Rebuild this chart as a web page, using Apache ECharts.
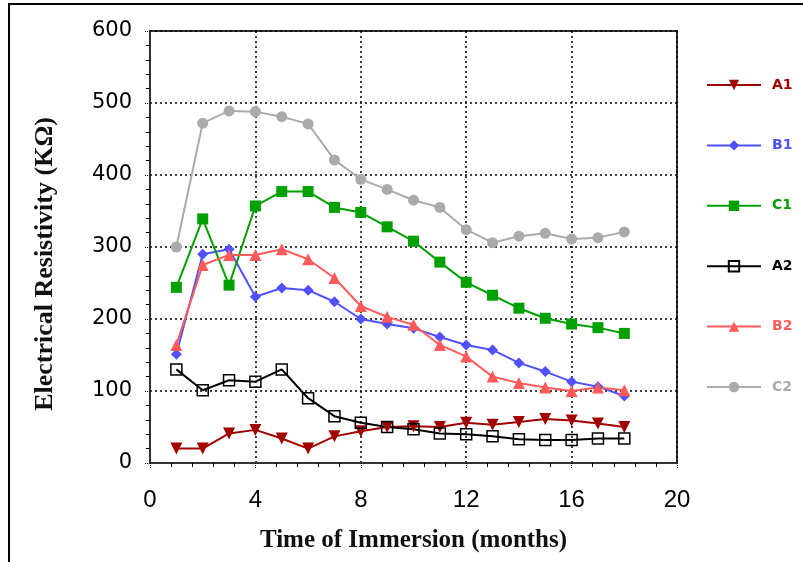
<!DOCTYPE html>
<html>
<head>
<meta charset="utf-8">
<script src="https://cdn.jsdelivr.net/npm/echarts@6/dist/echarts.min.js"></script>
<style>html,body{margin:0;padding:0;background:#fff}#c{width:803px;height:562px}</style>
</head>
<body>
<div id="c"></div>
<script>
const months = [1,2,3,4,5,6,7,8,9,10,11,12,13,14,15,16,17,18];
const A1 = [20,20,41,46,34,20,37,44,50,51,50,56,53,57,61,59,55,50];
const B1 = [151,290,297,231,243,240,224,200,193,187,175,164,157,139,127,113,106,93];
const C1 = [244,339,247,357,377,377,355,348,328,308,279,251,233,215,201,193,188,180];
const A2 = [130,101,115,113,130,90,65,56,50,47,41,40,37,33,32,32,34,34];
const B2 = [164,275,289,289,297,283,257,218,203,192,164,148,120,111,105,100,105,101];
const C2 = [300,472,489,488,481,471,421,394,380,365,355,324,306,315,319,311,313,321];
const xTicks = [0,4,8,12,16,20];
const yTicks = [0,100,200,300,400,500,600];

const seriesDefs = [
  {name:'A1', data:A1, color:'#a00000', symbol:'triangle', rotate:180, size:12},
  {name:'B1', data:B1, color:'#5050ff', symbol:'diamond', rotate:0, size:11},
  {name:'C1', data:C1, color:'#00a000', symbol:'rect', rotate:0, size:11},
  {name:'A2', data:A2, color:'#000000', symbol:'rect', rotate:0, size:11, hollow:true},
  {name:'B2', data:B2, color:'#ff5a5a', symbol:'triangle', rotate:0, size:12},
  {name:'C2', data:C2, color:'#aaaaaa', symbol:'circle', rotate:0, size:11}
];

const chart = echarts.init(document.getElementById('c'), null, {renderer:'canvas'});
chart.setOption({
  animation:false,
  backgroundColor:'#fff',
  graphic:[{type:'rect', shape:{x:9,y:4,width:900,height:700}, style:{fill:'none', stroke:'#000', lineWidth:2}, silent:true}],
  grid:{left:150, top:31, right:126, bottom:99, show:true, borderColor:'#333', borderWidth:2, backgroundColor:'transparent'},
  legend:{
    orient:'vertical', left:701, top:73, itemWidth:54, itemHeight:13, itemGap:46.4,
    textStyle:{fontFamily:'DejaVu Sans', fontWeight:'bold', fontSize:14, padding:[0,0,0,6]},
    data: seriesDefs.map(s=>({name:s.name, textStyle:{color:s.color}}))
  },
  xAxis:{
    type:'value', min:0, max:20, interval:4,
    name:'Time of Immersion (months)', nameLocation:'middle', nameGap:65,
    nameTextStyle:{fontFamily:'Liberation Serif', fontWeight:'bold', fontSize:25, color:'#111'},
    axisLine:{lineStyle:{color:'#333', width:2}},
    axisTick:{show:true, length:6, lineStyle:{color:'#000', type:'dotted', width:1}},
    minorTick:{show:true, splitNumber:5, length:4, lineStyle:{color:'#000', width:1}},
    axisLabel:{fontFamily:'Liberation Sans', fontSize:24, color:'#000', margin:25,
      formatter:v=>xTicks.includes(v)?String(v):''},
    splitLine:{show:true, lineStyle:{color:'#000', type:[2,3], width:1.5}}
  },
  yAxis:{
    type:'value', min:0, max:600, interval:100,
    name:'Electrical Resistivity (KΩ)', nameLocation:'middle', nameGap:92,
    nameTextStyle:{fontFamily:'Liberation Serif', fontWeight:'bold', fontSize:26, color:'#111', padding:[0,34,0,0]},
    axisLine:{show:true, lineStyle:{color:'#333', width:2}},
    axisTick:{show:true, length:6, lineStyle:{color:'#000', type:'dotted', width:1}},
    minorTick:{show:true, splitNumber:5, length:4, lineStyle:{color:'#000', width:1}},
    axisLabel:{fontFamily:'DejaVu Sans', fontSize:21, color:'#000', margin:18,
      formatter:v=>yTicks.includes(v)?String(v):''},
    splitLine:{show:true, lineStyle:{color:'#000', type:[2,3], width:1.5}}
  },
  series: seriesDefs.map(s=>({
    name:s.name, type:'line',
    data: months.map((m,i)=>[m, s.data[i]]),
    symbol:s.symbol, symbolSize:s.size, symbolRotate:s.rotate, showAllSymbol:true,
    lineStyle:{color:s.color, width:2},
    itemStyle: s.hollow ? {color:'rgba(255,255,255,0)', borderColor:s.color, borderWidth:1.5} : {color:s.color, borderWidth:0},
    emphasis:{disabled:true}
  }))
});
</script>
</body>
</html>
